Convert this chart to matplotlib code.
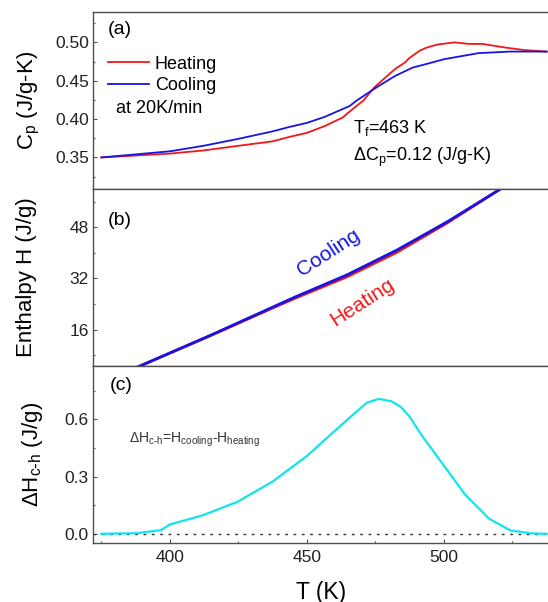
import matplotlib
matplotlib.use('Agg')
import matplotlib.pyplot as plt
from matplotlib.ticker import MultipleLocator, FormatStrFormatter

plt.rcParams['font.family'] = ['Liberation Sans', 'DejaVu Sans']
plt.rcParams['mathtext.default'] = 'regular'

""" DATA (read off the picture) """
# (a) heat capacity, J/g-K
T_cool_cp = [375, 400, 412, 424.7, 437.5, 443.9, 450, 456.6, 463, 465.6, 468.1, 475.7,
             482.1, 488.5, 494.9, 500, 512.7, 524.2, 537.5]
cp_cool = [0.350, 0.358, 0.365, 0.374, 0.384, 0.390, 0.395, 0.403, 0.413, 0.417, 0.424, 0.442,
           0.456, 0.467, 0.473, 0.478, 0.486, 0.488, 0.488]
T_heat_cp = [375, 400, 412, 424.7, 437.5, 443.9, 450, 456.6, 463, 468.1, 470.6, 474.5, 482.1,
             485.9, 487.2, 491.1, 493.6, 497.4, 503.8, 509, 514, 522.9, 529.3, 537.5]
cp_heat = [0.350, 0.355, 0.359, 0.365, 0.371, 0.377, 0.382, 0.391, 0.402, 0.417, 0.424, 0.441, 0.465,
           0.474, 0.479, 0.489, 0.493, 0.497, 0.500, 0.498, 0.498, 0.493, 0.490, 0.488]

# (b) enthalpy, J/g
T_h = [380, 389, 414.5, 440, 445.7, 464.6, 482.9, 501.2, 518.8, 530]
H_cool = [1.4, 4.6, 14.1, 24.0, 26.2, 33.1, 40.9, 49.7, 59.0, 65.0]
H_heat = [1.4, 4.6, 14.0, 23.7, 25.8, 32.5, 40.2, 49.35, 58.95, 65.0]

# (c) H_cooling - H_heating, J/g
T_dh = [375, 387.8, 396.7, 400, 412, 424.7, 437.5, 450, 459.1, 468.1, 471.9, 476.3, 480.9,
        484.3, 487.2, 491.9, 500, 507.6, 516.5, 524.2, 531.8, 537.5]
dH = [0.0, 0.003, 0.019, 0.049, 0.097, 0.168, 0.274, 0.408, 0.526, 0.641, 0.688, 0.708, 0.695,
      0.665, 0.620, 0.517, 0.358, 0.208, 0.079, 0.018, 0.002, 0.0]

fig, axes = plt.subplots(3, 1, figsize=(5.48, 6.02), dpi=100, sharex=True)
fig.subplots_adjust(left=0.170, right=1.0, top=0.9806, bottom=0.0975, hspace=0)
ax1, ax2, ax3 = axes

spine_col = '#505050'
for ax in axes:
    for s in ax.spines.values():
        s.set_color(spine_col)
        s.set_linewidth(1.0)
    ax.spines['right'].set_visible(False)
    ax.tick_params(which='both', direction='in', colors=spine_col, labelcolor='#222222',
                   labelsize=12.5, pad=3)
    ax.tick_params(which='major', length=3, width=0.8)
    ax.tick_params(which='minor', length=1.5, width=0.8)
    ax.tick_params(axis='x', which='both', bottom=False, labelbottom=False, top=False)
    ax.set_xlim(372, 538)

# (a)
l_h, = ax1.plot(T_heat_cp, cp_heat, color='#f01818', lw=1.3)
l_c, = ax1.plot(T_cool_cp, cp_cool, color='#1515e6', lw=1.3)
ax1.set_ylim(0.309, 0.540)
ax1.yaxis.set_major_locator(MultipleLocator(0.05))
ax1.yaxis.set_minor_locator(MultipleLocator(0.025))
ax1.yaxis.set_major_formatter(FormatStrFormatter('%.2f'))
ax1.set_ylabel('C$_p$ (J/g-K)', fontsize=16)
ax1.yaxis.set_label_coords(-0.113, 0.5)
ax1.legend([l_h, l_c], ['Heating', 'Cooling'], loc='upper left', bbox_to_anchor=(0.032, 0.752),
           frameon=False, fontsize=13, handlelength=2.3, handletextpad=0.3,
           labelspacing=0.25, borderpad=0, borderaxespad=0)
ax1.text(0.051, 0.456, 'at 20K/min', transform=ax1.transAxes, fontsize=13, va='center')
ax1.text(0.032, 0.897, '(a)', transform=ax1.transAxes, fontsize=14, va='center')
ax1.text(0.571, 0.315, 'T$_f$=463 K', transform=ax1.transAxes, fontsize=13, va='baseline')
ax1.text(0.571, 0.155, r'$\Delta$C$_p$=0.12 (J/g-K)', transform=ax1.transAxes, fontsize=13, va='baseline')

# (b)
ax2.plot(T_h, H_heat, color='#f01818', lw=2.0)
ax2.plot(T_h, H_cool, color='#1515e6', lw=2.0)
ax2.set_ylim(4.6, 60)
ax2.yaxis.set_major_locator(MultipleLocator(16))
ax2.yaxis.set_minor_locator(MultipleLocator(8))
ax2.set_ylabel('Enthalpy H (J/g)', fontsize=16)
ax2.yaxis.set_label_coords(-0.124, 0.5)
ax2.text(0.032, 0.824, '(b)', transform=ax2.transAxes, fontsize=14, va='center')
ax2.text(457.9, 39.9, 'Cooling', color='#1515e6', fontsize=15, rotation=33,
         ha='center', va='center', rotation_mode='anchor')
ax2.text(470.4, 24.4, 'Heating', color='#f01818', fontsize=15, rotation=33,
         ha='center', va='center', rotation_mode='anchor')

# (c)
ax3.axhline(0, color='#333333', lw=1.0, ls=(0, (2, 4)))
ax3.plot(T_dh, dH, color='#12e4ee', lw=1.6)
ax3.set_ylim(-0.05, 0.88)
ax3.yaxis.set_major_locator(MultipleLocator(0.3))
ax3.yaxis.set_minor_locator(MultipleLocator(0.15))
ax3.yaxis.set_major_formatter(FormatStrFormatter('%.1f'))
ax3.set_ylabel(r'$\Delta$H$_{c\text{-}h}$ (J/g)', fontsize=16)
ax3.yaxis.set_label_coords(-0.106, 0.5)
ax3.text(0.037, 0.892, '(c)', transform=ax3.transAxes, fontsize=14, va='center')
ax3.text(0.079, 0.569, r'$\Delta$H$_{c\text{-}h}$=H$_{cooling}$-H$_{heating}$', transform=ax3.transAxes,
         fontsize=10, va='baseline', color='#333333')
ax3.tick_params(axis='x', which='both', bottom=True, labelbottom=True, pad=5)
ax3.xaxis.set_major_locator(MultipleLocator(50))
ax3.xaxis.set_minor_locator(MultipleLocator(25))
ax3.set_xlabel('T (K)', fontsize=16.5)
ax3.xaxis.set_label_coords(0.5, -0.21)

plt.savefig('out.png', dpi=100)
